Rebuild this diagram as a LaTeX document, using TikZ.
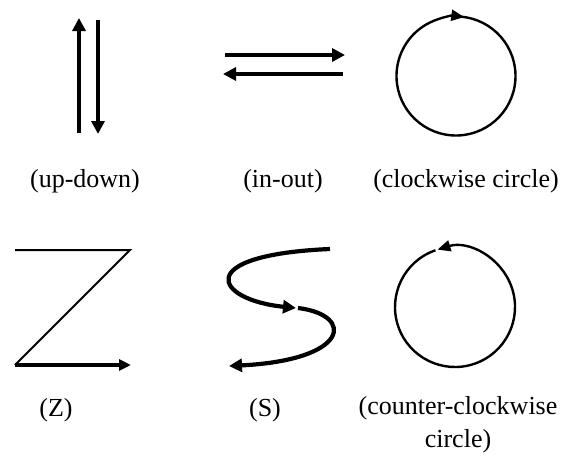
\documentclass[tikz,border=0pt]{standalone}
\usepackage{fontspec}
\setmainfont{Liberation Serif}
\usetikzlibrary{arrows.meta}
\tikzset{
  motion/.style = {line width = 4.2pt, -{Triangle[length=13pt,width=13pt]}},
  thinline/.style = {line width = 2.4pt},
  caption/.style = {font = \fontsize{26}{33}\selectfont, align = center}
}
\begin{document}
\begin{tikzpicture}[x = 1pt, y = -1pt]
\useasboundingbox (0,0) rectangle (561,455);
% up-down
\draw [motion] (79,133) -- (79,18);
\draw [motion] (98,20) -- (98,134);
% in-out
\draw [motion] (225,55) -- (345,55);
\draw [motion] (343,74) -- (223,74);
% circles
\draw [thinline, -{Triangle[length=13pt,width=11pt]}] (456,76) ++(-86:59.5) arc [start angle = -86, end angle = 278, radius = 59.5];
\draw [thinline, -{Triangle[length=13pt,width=11pt]}] (455,307) ++(-109:60) arc [start angle = -109, end angle = -467, radius = 60];
% Z
\draw [line width = 2pt] (15,250) -- (130,250) -- (15,365);
\draw [line width = 3.4pt, -{Triangle[length=12pt,width=11pt]}] (15,365) -- (131,365);
% S
\draw [motion] (330,249) .. controls (190,255) and (215,300) .. (296,308);
\draw [motion] (298,308) .. controls (355,315) and (350,360) .. (229,366);
% labels
\node [caption] (updown) at (85,181) {(up-down)};
\node [caption] (inout) at (283,181) {(in-out)};
\node [caption] (cw) at (466,181) {(clockwise circle)};
\node [caption] (zed) at (56,410) {(Z)};
\node [caption] (ess) at (265,410) {(S)};
\node [caption] (ccw) at (458,425) {(counter-clockwise\\circle)};
\end{tikzpicture}
\end{document}
